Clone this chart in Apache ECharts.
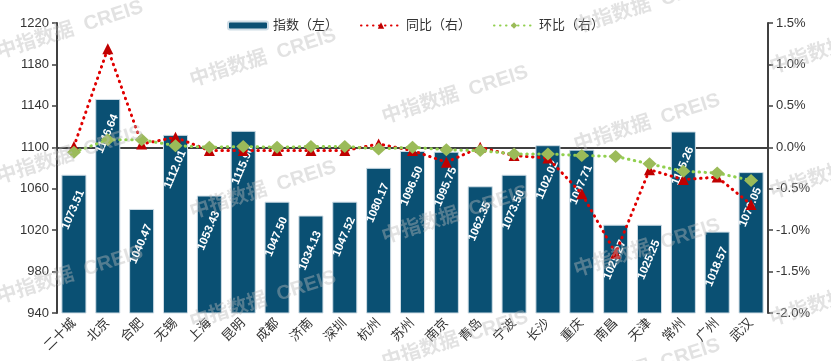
<!DOCTYPE html>
<html>
<head>
<meta charset="utf-8">
<script src="https://cdn.jsdelivr.net/npm/echarts@6/dist/echarts.min.js"></script>
<style>
  html, body { margin: 0; padding: 0; background: #fff; }
  #chart { width: 831px; height: 361px; }
</style>
</head>
<body>
<div id="chart"></div>
<script>
const cities = ["二十城", "北京", "合肥", "无锡", "上海", "昆明", "成都", "济南", "深圳", "杭州", "苏州",
    "南京", "青岛", "宁波", "长沙", "重庆", "南昌", "天津", "常州", "广州", "武汉"];
const indexVals = [1073.51, 1146.64, 1040.47, 1112.01, 1053.43, 1115.90, 1047.50, 1034.13, 1047.52, 1080.17, 1096.50,
    1095.75, 1062.35, 1073.50, 1102.02, 1097.71, 1025.27, 1025.25, 1115.26, 1018.57, 1076.05];
const yoyVals = [0.01, 1.19, 0.04, 0.12, -0.04, -0.04, -0.04, -0.04, -0.04, 0.04, -0.04,
    -0.18, 0.00, -0.10, -0.13, -0.56, -1.28, -0.27, -0.39, -0.36, -0.69];
const momVals = [-0.06, 0.09, 0.09, 0.02, 0.00, 0.01, 0.00, 0.01, 0.01, -0.02, 0.00,
    -0.03, -0.04, -0.08, -0.08, -0.10, -0.11, -0.20, -0.29, -0.31, -0.40];

// watermark centres
const marks = [[70, 30], [70, 155], [70, 275], [263, 58], [263, 190], [263, 300],
    [455, 95], [455, 215], [455, 340], [647, 5], [647, 123], [647, 248], [647, 368],
    [843, 45], [843, 170], [843, 297]];

const font = 'Liberation Sans, Arial, Noto Sans CJK SC, sans-serif';
const chart = echarts.init(document.getElementById('chart'));

chart.setOption({
    animation: false,
    textStyle: { fontFamily: font },
    legend: {
        top: 14,
        left: 'center',
        itemWidth: 40,
        itemHeight: 8,
        itemGap: 22,
        textStyle: { fontSize: 13, color: '#333', fontFamily: font }
    },
    grid: { left: 57, right: 63, top: 23, bottom: 48 },
    xAxis: {
        type: 'category',
        data: cities,
        axisLine: { lineStyle: { color: '#404040', width: 2 } },
        axisTick: { length: 5, lineStyle: { color: '#404040', width: 1.5 } },
        axisLabel: { rotate: 45, fontSize: 13, color: '#333', margin: 8, interval: 0 }
    },
    yAxis: [{
        type: 'value',
        min: 940, max: 1220, interval: 40,
        splitLine: { show: false },
        axisLine: { show: true, lineStyle: { color: '#404040', width: 2 } },
        axisTick: { show: true, length: 5, lineStyle: { color: '#404040', width: 1.5 } },
        axisLabel: { fontSize: 13, color: '#333', margin: 8, formatter: v => String(v) }
    }, {
        type: 'value',
        min: -2, max: 1.5, interval: 0.5,
        splitLine: { show: false },
        axisLine: { show: true, lineStyle: { color: '#404040', width: 2 } },
        axisTick: { show: true, length: 5, lineStyle: { color: '#404040', width: 1.5 } },
        axisLabel: { fontSize: 13, color: '#333', margin: 8, formatter: v => v.toFixed(1) + '%' }
    }],
    series: [{
        name: '指数（左）',
        type: 'bar',
        data: indexVals,
        barCategoryGap: '26%',
        itemStyle: { color: '#0a5073', borderColor: '#cfdde6', borderWidth: 1 },
        label: {
            show: true,
            position: ['80%', 16],
            rotate: 67,
            align: 'right',
            verticalAlign: 'middle',
            color: '#fff',
            fontSize: 11.5,
            fontWeight: 'bold',
            formatter: p => p.value.toFixed(2)
        }
    }, {
        name: '同比（右）',
        type: 'line',
        yAxisIndex: 1,
        data: yoyVals,
        symbol: 'triangle',
        symbolSize: 11,
        itemStyle: { color: '#c00000' },
        lineStyle: { color: '#e00000', width: 3, type: [0.5, 5.5], cap: 'round' }
    }, {
        name: '环比（右）',
        type: 'line',
        yAxisIndex: 1,
        data: momVals,
        symbol: 'diamond',
        symbolSize: [14, 13],
        itemStyle: { color: '#9bbb59' },
        lineStyle: { color: '#92d050', width: 3, type: [0.5, 5.5], cap: 'round' }
    }],
    graphic: marks.map(m => ({
        type: 'text',
        x: m[0], y: m[1],
        rotation: 0.31,
        z: 100,
        silent: true,
        style: {
            text: '中指数据  CREIS',
            fill: 'rgba(185,185,185,0.42)',
            font: 'bold 20px ' + font,
            align: 'center',
            verticalAlign: 'middle'
        }
    }))
});
</script>
</body>
</html>
